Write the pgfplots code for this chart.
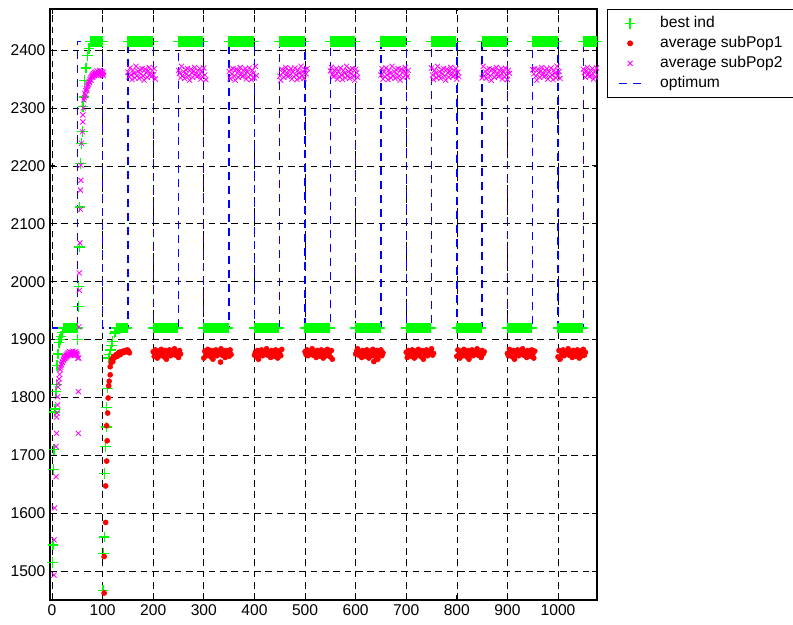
\documentclass[border=0pt]{standalone}
\usepackage{pgfplots}
\pgfplotsset{compat=1.18}
\usepackage{fontspec}
\setmainfont{Liberation Sans}
\definecolor{mgreen}{rgb}{0,1,0}
\definecolor{mblue}{rgb}{0,0,1}
\definecolor{mmag}{rgb}{1,0,1}
\begin{document}
\begin{tikzpicture}
\path[use as bounding box] (0,0) rectangle (594.75pt,468.75pt);
\begin{axis}[
 at={(37.5pt,18.75pt)}, anchor=south west,
 width=410.25pt, height=443.25pt, scale only axis,
 xmin=-4, xmax=1077, ymin=1450, ymax=2471,
 xtick={0,100,...,1000}, ytick={1500,1600,...,2400},
 grid=major, major grid style={black, dash pattern=on 5pt off 3.5pt, line width=0.5pt},
 tick align=inside, tick pos=both, major tick length=4pt,
 axis line style={line width=0.8pt},
 tick style={black, line width=0.6pt},
 ticklabel style={font=\fontsize{11.7}{14}\selectfont},
 /pgf/number format/assume math mode=true,
 /pgf/number format/1000 sep={},
 legend style={at={(1,1)}, anchor=north west, xshift=7.5pt, line width=0.6pt,
   font=\fontsize{11.7}{14}\selectfont, inner xsep=8pt, inner ysep=3pt,
   nodes={inner sep=1.5pt, text height=9pt, text depth=3pt},
   /tikz/every odd column/.append style={column sep=12pt}},
 legend cell align=left,
]
\addplot[only marks, mark=+, mark size=4pt, color=mgreen, mark options={color=mgreen, line width=0.95pt}]
table[row sep=\\]{x y\\
1 1515\\2 1545\\3 1675\\4 1710\\5 1775\\6 1780\\8 1810\\9 1822\\10 1855\\12 1875\\14 1895\\16 1900\\18 1905\\20 1912\\
22 1920\\24 1920\\26 1920\\28 1920\\30 1920\\32 1920\\34 1920\\36 1920\\38 1920\\40 1920\\42 1920\\44 1920\\46 1920\\48 1920\\50 1920\\51 1900\\
52 1957\\53 1991\\54 2060\\55 2129\\56 2204\\58 2239\\60 2259\\61 2302\\63 2319\\64 2348\\67 2369\\70 2391\\73 2403\\
76 2415\\78 2415\\80 2415\\82 2415\\84 2415\\86 2415\\88 2415\\90 2415\\92 2415\\94 2415\\96 2415\\98 2415\\100 2415\\
101 1467\\102 1530\\103 1559\\104 1669\\106 1715\\107 1749\\108 1782\\109 1816\\111 1868\\113 1874\\115 1882\\117 1890\\120 1896\\123 1911\\126 1913\\
128 1920\\130 1920\\132 1920\\134 1920\\136 1920\\138 1920\\140 1920\\142 1920\\144 1920\\146 1920\\148 1920\\
150 2415\\152 2415\\154 2415\\156 2415\\158 2415\\160 2415\\162 2415\\164 2415\\166 2415\\168 2415\\170 2415\\172 2415\\174 2415\\176 2415\\178 2415\\180 2415\\182 2415\\184 2415\\186 2415\\188 2415\\190 2415\\192 2415\\194 2415\\196 2415\\198 2415\\
200 1920\\202 1920\\204 1920\\206 1920\\208 1920\\210 1920\\212 1920\\214 1920\\216 1920\\218 1920\\220 1920\\222 1920\\224 1920\\226 1920\\228 1920\\230 1920\\232 1920\\234 1920\\236 1920\\238 1920\\240 1920\\242 1920\\244 1920\\246 1920\\248 1920\\
250 2415\\252 2415\\254 2415\\256 2415\\258 2415\\260 2415\\262 2415\\264 2415\\266 2415\\268 2415\\270 2415\\272 2415\\274 2415\\276 2415\\278 2415\\280 2415\\282 2415\\284 2415\\286 2415\\288 2415\\290 2415\\292 2415\\294 2415\\296 2415\\298 2415\\
300 1920\\302 1920\\304 1920\\306 1920\\308 1920\\310 1920\\312 1920\\314 1920\\316 1920\\318 1920\\320 1920\\322 1920\\324 1920\\326 1920\\328 1920\\330 1920\\332 1920\\334 1920\\336 1920\\338 1920\\340 1920\\342 1920\\344 1920\\346 1920\\348 1920\\
350 2415\\352 2415\\354 2415\\356 2415\\358 2415\\360 2415\\362 2415\\364 2415\\366 2415\\368 2415\\370 2415\\372 2415\\374 2415\\376 2415\\378 2415\\380 2415\\382 2415\\384 2415\\386 2415\\388 2415\\390 2415\\392 2415\\394 2415\\396 2415\\398 2415\\
400 1920\\402 1920\\404 1920\\406 1920\\408 1920\\410 1920\\412 1920\\414 1920\\416 1920\\418 1920\\420 1920\\422 1920\\424 1920\\426 1920\\428 1920\\430 1920\\432 1920\\434 1920\\436 1920\\438 1920\\440 1920\\442 1920\\444 1920\\446 1920\\448 1920\\
450 2415\\452 2415\\454 2415\\456 2415\\458 2415\\460 2415\\462 2415\\464 2415\\466 2415\\468 2415\\470 2415\\472 2415\\474 2415\\476 2415\\478 2415\\480 2415\\482 2415\\484 2415\\486 2415\\488 2415\\490 2415\\492 2415\\494 2415\\496 2415\\498 2415\\
500 1920\\502 1920\\504 1920\\506 1920\\508 1920\\510 1920\\512 1920\\514 1920\\516 1920\\518 1920\\520 1920\\522 1920\\524 1920\\526 1920\\528 1920\\530 1920\\532 1920\\534 1920\\536 1920\\538 1920\\540 1920\\542 1920\\544 1920\\546 1920\\548 1920\\
550 2415\\552 2415\\554 2415\\556 2415\\558 2415\\560 2415\\562 2415\\564 2415\\566 2415\\568 2415\\570 2415\\572 2415\\574 2415\\576 2415\\578 2415\\580 2415\\582 2415\\584 2415\\586 2415\\588 2415\\590 2415\\592 2415\\594 2415\\596 2415\\598 2415\\
600 1920\\602 1920\\604 1920\\606 1920\\608 1920\\610 1920\\612 1920\\614 1920\\616 1920\\618 1920\\620 1920\\622 1920\\624 1920\\626 1920\\628 1920\\630 1920\\632 1920\\634 1920\\636 1920\\638 1920\\640 1920\\642 1920\\644 1920\\646 1920\\648 1920\\
650 2415\\652 2415\\654 2415\\656 2415\\658 2415\\660 2415\\662 2415\\664 2415\\666 2415\\668 2415\\670 2415\\672 2415\\674 2415\\676 2415\\678 2415\\680 2415\\682 2415\\684 2415\\686 2415\\688 2415\\690 2415\\692 2415\\694 2415\\696 2415\\698 2415\\
700 1920\\702 1920\\704 1920\\706 1920\\708 1920\\710 1920\\712 1920\\714 1920\\716 1920\\718 1920\\720 1920\\722 1920\\724 1920\\726 1920\\728 1920\\730 1920\\732 1920\\734 1920\\736 1920\\738 1920\\740 1920\\742 1920\\744 1920\\746 1920\\748 1920\\
750 2415\\752 2415\\754 2415\\756 2415\\758 2415\\760 2415\\762 2415\\764 2415\\766 2415\\768 2415\\770 2415\\772 2415\\774 2415\\776 2415\\778 2415\\780 2415\\782 2415\\784 2415\\786 2415\\788 2415\\790 2415\\792 2415\\794 2415\\796 2415\\798 2415\\
800 1920\\802 1920\\804 1920\\806 1920\\808 1920\\810 1920\\812 1920\\814 1920\\816 1920\\818 1920\\820 1920\\822 1920\\824 1920\\826 1920\\828 1920\\830 1920\\832 1920\\834 1920\\836 1920\\838 1920\\840 1920\\842 1920\\844 1920\\846 1920\\848 1920\\
850 2415\\852 2415\\854 2415\\856 2415\\858 2415\\860 2415\\862 2415\\864 2415\\866 2415\\868 2415\\870 2415\\872 2415\\874 2415\\876 2415\\878 2415\\880 2415\\882 2415\\884 2415\\886 2415\\888 2415\\890 2415\\892 2415\\894 2415\\896 2415\\898 2415\\
900 1920\\902 1920\\904 1920\\906 1920\\908 1920\\910 1920\\912 1920\\914 1920\\916 1920\\918 1920\\920 1920\\922 1920\\924 1920\\926 1920\\928 1920\\930 1920\\932 1920\\934 1920\\936 1920\\938 1920\\940 1920\\942 1920\\944 1920\\946 1920\\948 1920\\
950 2415\\952 2415\\954 2415\\956 2415\\958 2415\\960 2415\\962 2415\\964 2415\\966 2415\\968 2415\\970 2415\\972 2415\\974 2415\\976 2415\\978 2415\\980 2415\\982 2415\\984 2415\\986 2415\\988 2415\\990 2415\\992 2415\\994 2415\\996 2415\\998 2415\\
1000 1920\\1002 1920\\1004 1920\\1006 1920\\1008 1920\\1010 1920\\1012 1920\\1014 1920\\1016 1920\\1018 1920\\1020 1920\\1022 1920\\1024 1920\\1026 1920\\1028 1920\\1030 1920\\1032 1920\\1034 1920\\1036 1920\\1038 1920\\1040 1920\\1042 1920\\1044 1920\\1046 1920\\1048 1920\\
1050 2415\\1052 2415\\1054 2415\\1056 2415\\1058 2415\\1060 2415\\1062 2415\\1064 2415\\1066 2415\\1068 2415\\1070 2415\\1072 2415\\1074 2415\\1076 2415\\
};
\addlegendentry{best ind}
\addplot[only marks, mark=*, mark size=1.9pt, color=red, mark options={color=red}]
table[row sep=\\]{x y\\
103 1462\\103 1525\\106 1584\\106 1647\\108 1690\\109 1725\\108 1751\\110 1773\\111 1799\\112 1820\\113 1828\\115 1839\\115 1853\\117 1860\\118 1866\\120 1862\\121 1870\\123 1868\\125 1872\\127 1874\\129 1871\\131 1876\\133 1878\\135 1874\\137 1879\\139 1877\\141 1880\\143 1878\\145 1881\\147 1879\\149 1882\\151 1880\\153 1877\\
200 1879\\202 1871\\204 1882\\206 1874\\208 1868\\210 1880\\212 1876\\214 1872\\216 1883\\218 1873\\220 1878\\222 1870\\224 1881\\226 1866\\228 1879\\230 1874\\232 1882\\234 1872\\236 1877\\238 1875\\240 1880\\242 1884\\244 1873\\246 1876\\248 1878\\250 1869\\252 1881\\254 1875\\
300 1868\\302 1880\\304 1876\\306 1872\\308 1883\\310 1873\\312 1878\\314 1870\\316 1881\\318 1866\\320 1879\\322 1874\\324 1882\\326 1872\\328 1877\\330 1875\\332 1880\\334 1884\\336 1873\\338 1876\\340 1878\\342 1869\\344 1881\\346 1875\\348 1879\\350 1871\\352 1882\\354 1874\\333 1861\\
400 1873\\402 1878\\404 1870\\406 1881\\408 1866\\410 1879\\412 1874\\414 1882\\416 1872\\418 1877\\420 1875\\422 1880\\424 1884\\426 1873\\428 1876\\430 1878\\432 1869\\434 1881\\436 1875\\438 1879\\440 1871\\442 1882\\444 1874\\446 1868\\448 1880\\450 1876\\452 1872\\454 1883\\
500 1879\\502 1874\\504 1882\\506 1872\\508 1877\\510 1875\\512 1880\\514 1884\\516 1873\\518 1876\\520 1878\\522 1869\\524 1881\\526 1875\\528 1879\\530 1871\\532 1882\\534 1874\\536 1868\\538 1880\\540 1876\\542 1872\\544 1883\\546 1873\\548 1878\\550 1870\\552 1881\\554 1866\\
600 1875\\602 1880\\604 1884\\606 1873\\608 1876\\610 1878\\612 1869\\614 1881\\616 1875\\618 1879\\620 1871\\622 1882\\624 1874\\626 1868\\628 1880\\630 1876\\632 1872\\634 1883\\636 1873\\638 1878\\640 1870\\642 1881\\644 1866\\646 1879\\648 1874\\650 1882\\652 1872\\654 1877\\636 1862\\
700 1878\\702 1869\\704 1881\\706 1875\\708 1879\\710 1871\\712 1882\\714 1874\\716 1868\\718 1880\\720 1876\\722 1872\\724 1883\\726 1873\\728 1878\\730 1870\\732 1881\\734 1866\\736 1879\\738 1874\\740 1882\\742 1872\\744 1877\\746 1875\\748 1880\\750 1884\\752 1873\\754 1876\\
800 1871\\802 1882\\804 1874\\806 1868\\808 1880\\810 1876\\812 1872\\814 1883\\816 1873\\818 1878\\820 1870\\822 1881\\824 1866\\826 1879\\828 1874\\830 1882\\832 1872\\834 1877\\836 1875\\838 1880\\840 1884\\842 1873\\844 1876\\846 1878\\848 1869\\850 1881\\852 1875\\854 1879\\
900 1876\\902 1872\\904 1883\\906 1873\\908 1878\\910 1870\\912 1881\\914 1866\\916 1879\\918 1874\\920 1882\\922 1872\\924 1877\\926 1875\\928 1880\\930 1884\\932 1873\\934 1876\\936 1878\\938 1869\\940 1881\\942 1875\\944 1879\\946 1871\\948 1882\\950 1874\\952 1868\\954 1880\\
1000 1870\\1002 1881\\1004 1866\\1006 1879\\1008 1874\\1010 1882\\1012 1872\\1014 1877\\1016 1875\\1018 1880\\1020 1884\\1022 1873\\1024 1876\\1026 1878\\1028 1869\\1030 1881\\1032 1875\\1034 1879\\1036 1871\\1038 1882\\1040 1874\\1042 1868\\1044 1880\\1046 1876\\1048 1872\\1050 1883\\1052 1873\\1054 1878\\
};
\addlegendentry{average subPop1\hspace*{1pt}}
\addplot[only marks, mark=x, mark size=2.7pt, color=mmag, mark options={color=mmag, line width=0.6pt}]
table[row sep=\\]{x y\\
4 1493\\4 1554\\5 1609\\8 1663\\8 1715\\9 1738\\9 1766\\10 1773\\11 1787\\11 1801\\12 1818\\13 1825\\14 1832\\15 1840\\16 1848\\17 1852\\18 1858\\19 1856\\20 1862\\21 1860\\22 1866\\23 1864\\24 1869\\25 1867\\26 1871\\27 1868\\28 1873\\29 1870\\30 1875\\31 1872\\32 1877\\33 1873\\34 1876\\35 1879\\36 1874\\37 1877\\38 1873\\39 1878\\40 1875\\41 1880\\42 1874\\43 1877\\44 1872\\45 1878\\46 1875\\47 1879\\48 1874\\49 1876\\50 1873\\51 1868\\
52 1738\\52 1810\\53 1868\\53 1922\\54 1985\\54 2015\\55 2067\\56 2125\\56 2158\\57 2175\\57 2201\\58 2239\\60 2259\\61 2276\\61 2288\\62 2300\\63 2314\\
64 2318\\65 2325\\66 2322\\67 2330\\68 2334\\69 2331\\70 2338\\71 2342\\72 2340\\73 2346\\74 2344\\75 2349\\76 2352\\77 2348\\78 2355\\79 2353\\80 2357\\81 2354\\82 2359\\83 2356\\84 2361\\85 2358\\86 2362\\87 2357\\88 2360\\89 2364\\90 2358\\91 2362\\92 2356\\93 2361\\94 2365\\95 2359\\96 2362\\97 2357\\98 2363\\99 2360\\100 2358\\101 2362\\102 2356\\
150 2362\\152 2354\\154 2369\\156 2357\\158 2349\\160 2365\\162 2360\\164 2352\\166 2372\\168 2356\\170 2363\\172 2351\\174 2366\\176 2359\\178 2368\\180 2355\\182 2348\\184 2367\\186 2361\\188 2353\\190 2364\\192 2370\\194 2358\\196 2354\\198 2365\\200 2357\\202 2368\\204 2350\\
250 2365\\252 2360\\254 2352\\256 2372\\258 2356\\260 2363\\262 2351\\264 2366\\266 2359\\268 2368\\270 2355\\272 2348\\274 2367\\276 2361\\278 2353\\280 2364\\282 2370\\284 2358\\286 2354\\288 2365\\290 2357\\292 2368\\294 2350\\296 2362\\298 2354\\300 2369\\302 2357\\304 2349\\
350 2363\\352 2351\\354 2366\\356 2359\\358 2368\\360 2355\\362 2348\\364 2367\\366 2361\\368 2353\\370 2364\\372 2370\\374 2358\\376 2354\\378 2365\\380 2357\\382 2368\\384 2350\\386 2362\\388 2354\\390 2369\\392 2357\\394 2349\\396 2365\\398 2360\\400 2352\\402 2372\\404 2356\\
450 2355\\452 2348\\454 2367\\456 2361\\458 2353\\460 2364\\462 2370\\464 2358\\466 2354\\468 2365\\470 2357\\472 2368\\474 2350\\476 2362\\478 2354\\480 2369\\482 2357\\484 2349\\486 2365\\488 2360\\490 2352\\492 2372\\494 2356\\496 2363\\498 2351\\500 2366\\502 2359\\504 2368\\
550 2364\\552 2370\\554 2358\\556 2354\\558 2365\\560 2357\\562 2368\\564 2350\\566 2362\\568 2354\\570 2369\\572 2357\\574 2349\\576 2365\\578 2360\\580 2352\\582 2372\\584 2356\\586 2363\\588 2351\\590 2366\\592 2359\\594 2368\\596 2355\\598 2348\\600 2367\\602 2361\\604 2353\\
650 2357\\652 2368\\654 2350\\656 2362\\658 2354\\660 2369\\662 2357\\664 2349\\666 2365\\668 2360\\670 2352\\672 2372\\674 2356\\676 2363\\678 2351\\680 2366\\682 2359\\684 2368\\686 2355\\688 2348\\690 2367\\692 2361\\694 2353\\696 2364\\698 2370\\700 2358\\702 2354\\704 2365\\
750 2369\\752 2357\\754 2349\\756 2365\\758 2360\\760 2352\\762 2372\\764 2356\\766 2363\\768 2351\\770 2366\\772 2359\\774 2368\\776 2355\\778 2348\\780 2367\\782 2361\\784 2353\\786 2364\\788 2370\\790 2358\\792 2354\\794 2365\\796 2357\\798 2368\\800 2350\\802 2362\\804 2354\\
850 2352\\852 2372\\854 2356\\856 2363\\858 2351\\860 2366\\862 2359\\864 2368\\866 2355\\868 2348\\870 2367\\872 2361\\874 2353\\876 2364\\878 2370\\880 2358\\882 2354\\884 2365\\886 2357\\888 2368\\890 2350\\892 2362\\894 2354\\896 2369\\898 2357\\900 2349\\902 2365\\904 2360\\
950 2366\\952 2359\\954 2368\\956 2355\\958 2348\\960 2367\\962 2361\\964 2353\\966 2364\\968 2370\\970 2358\\972 2354\\974 2365\\976 2357\\978 2368\\980 2350\\982 2362\\984 2354\\986 2369\\988 2357\\990 2349\\992 2365\\994 2360\\996 2352\\998 2372\\1000 2356\\1002 2363\\1004 2351\\
1050 2367\\1052 2361\\1054 2353\\1056 2364\\1058 2370\\1060 2358\\1062 2354\\1064 2365\\1066 2357\\1068 2368\\1070 2350\\1072 2362\\1074 2354\\1076 2369\\
};
\addlegendentry{average subPop2}
\addplot[draw=mblue, color=mblue, line width=1pt, dash pattern=on 6pt off 4.5pt,
  legend image code/.code={\draw[draw=mblue, line width=1pt, dash pattern=on 6pt off 4.5pt] (0cm,0cm) -- (0.6cm,0cm);}] coordinates {
(0,1920) (50,1920) (50,2415) (100,2415) (100,1920) (150,1920) (150,2415) (200,2415) (200,1920) (250,1920) (250,2415) (300,2415) (300,1920) (350,1920) (350,2415) (400,2415) (400,1920) (450,1920) (450,2415) (500,2415) (500,1920) (550,1920) (550,2415) (600,2415) (600,1920) (650,1920) (650,2415) (700,2415) (700,1920) (750,1920) (750,2415) (800,2415) (800,1920) (850,1920) (850,2415) (900,2415) (900,1920) (950,1920) (950,2415) (1000,2415) (1000,1920) (1050,1920) (1050,2415) (1077,2415)
};
\addlegendentry{optimum}
\end{axis}
\end{tikzpicture}
\end{document}
